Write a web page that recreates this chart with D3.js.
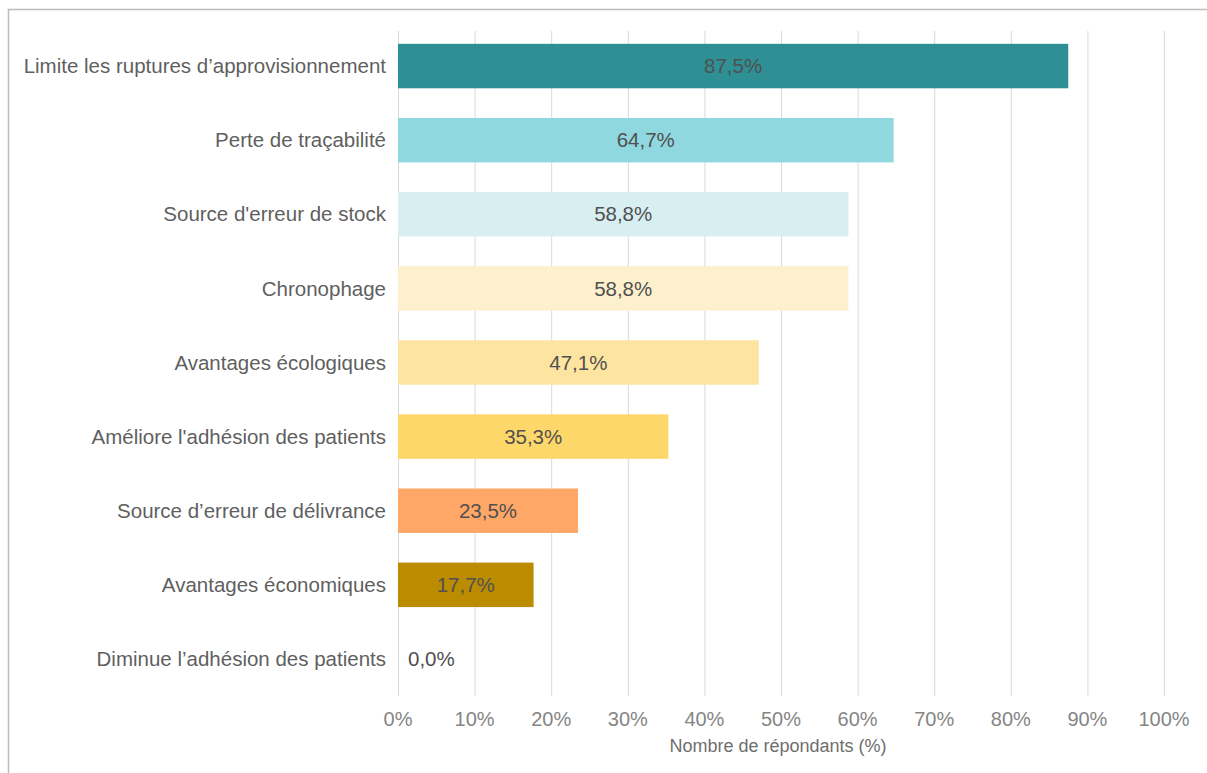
<!DOCTYPE html>
<html>
<head>
<meta charset="utf-8">
<script src="https://cdn.jsdelivr.net/npm/d3@7"></script>
<style>
  body { margin: 0; background: #fff; font-family: "Liberation Sans", Arial, sans-serif; }
</style>
</head>
<body>
<div id="chart"></div>
<script>
const categories = [
    "Limite les ruptures d\u2019approvisionnement",
    "Perte de traçabilité",
    "Source d'erreur de stock",
    "Chronophage",
    "Avantages écologiques",
    "Améliore l'adhésion des patients",
    "Source d\u2019erreur de délivrance",
    "Avantages économiques",
    "Diminue l\u2019adhésion des patients"
];
const values = [87.5, 64.7, 58.8, 58.8, 47.1, 35.3, 23.5, 17.7, 0.0];
const colors = ["#2e8f95", "#8fd8df", "#d8eff2", "#fdf0cd", "#fde4a0", "#fed76a", "#fea767", "#bb8c00", "#cccccc"];
const ticks = [0, 10, 20, 30, 40, 50, 60, 70, 80, 90, 100];
const axisTitle = "Nombre de répondants (%)";

const width = 1207;
const height = 773;
const margin = { top: 31, right: 43, bottom: 77, left: 398 };

const svg = d3.select("#chart").append("svg")
    .attr("width", width)
    .attr("height", height);

// frame (top and left edges only)
svg.append("path")
    .attr("d", "M8.5," + height + "V9.5H" + width)
    .attr("fill", "none")
    .attr("stroke", "#bdbdbd")
    .attr("stroke-width", 1.5);

const xScale = d3.scaleLinear().domain([0, 100]).range([margin.left, width - margin.right]);
const yScale = d3.scaleBand().domain(categories)
    .range([margin.top - 2, height - margin.bottom])
    .paddingInner(0.4).paddingOuter(0.2);

// grid
svg.append("g").selectAll("line").data(ticks).join("line")
    .attr("x1", d => xScale(d) + 0.5)
    .attr("x2", d => xScale(d) + 0.5)
    .attr("y1", margin.top)
    .attr("y2", height - margin.bottom)
    .attr("stroke", "#d9d9d9")
    .attr("stroke-width", 1);

// x tick labels
svg.append("g").selectAll("text").data(ticks).join("text")
    .attr("x", d => xScale(d))
    .attr("y", height - margin.bottom + 30)
    .attr("text-anchor", "middle")
    .attr("font-size", 20)
    .attr("fill", "#858585")
    .text(d => d + "%");

svg.append("text")
    .attr("x", (xScale(0) + xScale(100)) / 2 - 3)
    .attr("y", height - margin.bottom + 56)
    .attr("text-anchor", "middle")
    .attr("font-size", 18)
    .attr("fill", "#6e6e6e")
    .text(axisTitle);

// category labels
svg.append("g").selectAll("text").data(categories).join("text")
    .attr("x", margin.left - 12)
    .attr("y", d => yScale(d) + yScale.bandwidth() / 2)
    .attr("dy", "0.35em")
    .attr("text-anchor", "end")
    .attr("font-size", 20.5)
    .attr("fill", "#5f5f5f")
    .text(d => d);

// bars
svg.append("g").selectAll("rect").data(values).join("rect")
    .attr("x", xScale(0))
    .attr("y", (d, i) => yScale(categories[i]))
    .attr("width", d => xScale(d) - xScale(0))
    .attr("height", yScale.bandwidth())
    .attr("fill", (d, i) => colors[i]);

// value labels
const fmt = d => d3.format(".1f")(d).replace(".", ",") + "%";
svg.append("g").selectAll("text").data(values).join("text")
    .attr("x", d => d > 0 ? (xScale(d) + xScale(0)) / 2 : xScale(0) + 10)
    .attr("y", (d, i) => yScale(categories[i]) + yScale.bandwidth() / 2)
    .attr("dy", "0.35em")
    .attr("text-anchor", d => d > 0 ? "middle" : "start")
    .attr("font-size", 20.5)
    .attr("fill", "#505050")
    .text(fmt);
</script>
</body>
</html>
